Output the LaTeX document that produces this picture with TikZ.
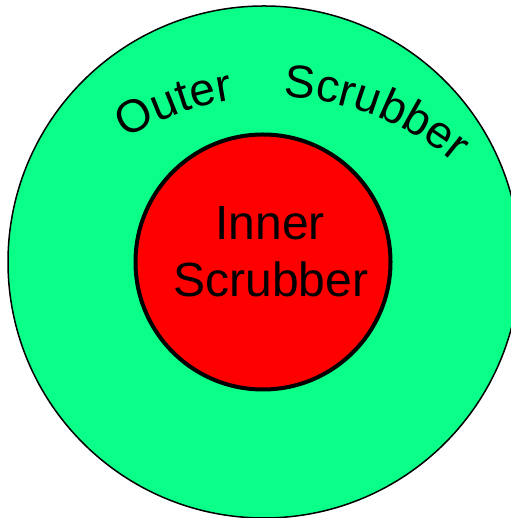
\documentclass[tikz,border=0pt]{standalone}
\usepackage{fontspec}
\setmainfont{Liberation Sans}
\usetikzlibrary{decorations.text,calc}
\definecolor{outergreen}{HTML}{0AFF88}
\definecolor{innerred}{HTML}{FF0000}
\tikzset{
  ring/.style={circle, inner sep=0pt, outer sep=0pt},
  bigtext/.style={font=\fontsize{48}{57}\selectfont, inner sep=0pt, anchor=base},
}
\begin{document}
\begin{tikzpicture}[x=1pt,y=1pt]
\useasboundingbox (0,0) rectangle (510,518);
\node[ring, draw=black, line width=1.5pt, fill=outergreen, minimum size=512pt] (outer) at (264,256) {};
\node[ring, draw=black, line width=4pt, fill=innerred, minimum size=255pt] (inner) at (263,256) {};
\node[bigtext] (innerA) at (270,278) {Inner};
\node[bigtext] (innerB) at (271,221) {Scrubber};
\coordinate (arcc) at (274,142);
\path[decorate, decoration={text along path, text align=left,
  text={|\fontsize{46}{46}\selectfont|Outer}}]
  ($(arcc)+(122:279)$) arc[start angle=122, end angle=60, radius=279];
\path[decorate, decoration={text along path, text align=left,
  text={|\fontsize{46}{46}\selectfont|Scrubber}}]
  ($(arcc)+(88:279)$) arc[start angle=88, end angle=30, radius=279];
\end{tikzpicture}
\end{document}
